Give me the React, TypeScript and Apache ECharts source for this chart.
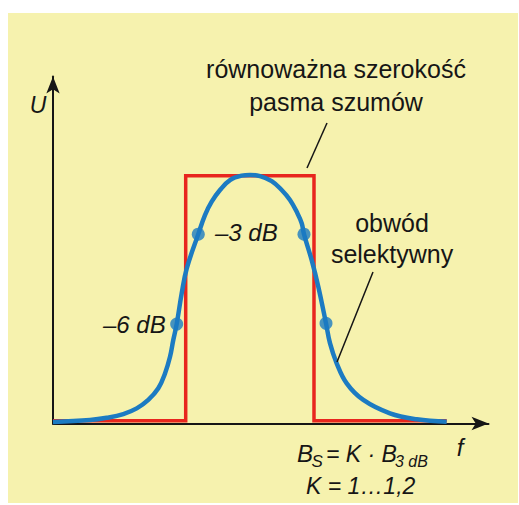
import React, { useEffect, useRef } from "react";
import * as echarts from "echarts";

// Frequency (arbitrary units, 0..100 along the f axis) and amplitude U (peak = 1)
const curveF = [
  0, 8.5, 12.33, 16.14, 19.22, 21.88, 24.18, 25.72, 26.87, 27.62, 28.4, 29.55, 30.7,
  33.36, 34.9, 36.44, 38.35, 40.64, 43.33, 45.24, 47.53, 50.22, 52.51, 54.42, 55.96,
  57.11, 57.63, 59.4, 60.92, 62.69, 63.6, 65.14, 67.44, 71.25, 77.38, 83.51, 90.4,
];
const curveU = [
  0.006, 0.014, 0.023, 0.038, 0.061, 0.095, 0.142, 0.202, 0.269, 0.337, 0.401, 0.525,
  0.625, 0.764, 0.841, 0.895, 0.942, 0.982, 1.0, 1.003, 0.998, 0.978, 0.942, 0.902,
  0.854, 0.808, 0.764, 0.659, 0.552, 0.404, 0.324, 0.243, 0.162, 0.095, 0.041, 0.017,
  0.007,
];

// Equivalent noise bandwidth rectangle
const rectF = [0, 30.47, 30.47, 59.93, 59.93, 90.4];
const rectU = [0.011, 0.011, 1.0, 1.0, 0.011, 0.011];

// -3 dB and -6 dB points on the selective circuit response
const markerF = [28.4, 33.36, 57.63, 62.69];
const markerU = [0.401, 0.764, 0.764, 0.404];

const BLUE = "#1C7BC2";
const RED = "#E8261E";
const INK = "#161616";
const PAPER = "#F6F2AE";
const FONT = "Liberation Sans, Arial, sans-serif";

export default function App() {
  const ref = useRef<HTMLDivElement>(null);

  useEffect(() => {
    document.body.style.margin = "0";
    if (!ref.current) return;
    const chart = echarts.init(ref.current, undefined, { renderer: "svg" });

    const curve = curveF.map((f, i) => [f, curveU[i]]);
    const rect = rectF.map((f, i) => [f, rectU[i]]);
    const markers = markerF.map((f, i) => [f, markerU[i]]);

    const txt = (
      text: string,
      x: number,
      y: number,
      size: number,
      align: string,
      italic = false
    ) => ({
      type: "text",
      x,
      y,
      z: 20,
      style: {
        text,
        fill: INK,
        font: `${italic ? "italic " : ""}${size}px ${FONT}`,
        textAlign: align,
        textVerticalAlign: "middle",
      },
    });

    const axisStyle = {
      show: true,
      symbol: ["none", "arrow"],
      symbolSize: [10, 17],
      lineStyle: { color: INK, width: 2 },
    };

    chart.setOption({
      animation: false,
      backgroundColor: "#ffffff",
      grid: { left: 53, right: 30.5, top: 76.5, bottom: 81.5 },
      xAxis: {
        type: "value",
        min: 0,
        max: 100,
        axisLine: axisStyle,
        axisTick: { show: false },
        axisLabel: { show: false },
        splitLine: { show: false },
      },
      yAxis: {
        type: "value",
        min: 0,
        max: 1.4,
        axisLine: axisStyle,
        axisTick: { show: false },
        axisLabel: { show: false },
        splitLine: { show: false },
      },
      graphic: [
        {
          type: "rect",
          z: -10,
          shape: { x: 8, y: 13, width: 510, height: 490 },
          style: { fill: PAPER },
        },
        txt("U", 38, 105, 23, "center", true),
        txt("f", 460, 447, 24, "center", true),
        txt("równoważna szerokość", 336, 69, 25, "center"),
        txt("pasma szumów", 336, 102, 25, "center"),
        txt("obwód", 392, 223, 25, "center"),
        txt("selektywny", 392, 254, 25, "center"),
        txt("–3 dB", 215, 232, 24, "left", true),
        txt("–6 dB", 103, 324, 24, "left", true),
        txt("B", 297, 453.5, 24, "left", true),
        txt("S", 311.5, 461, 17, "left", true),
        txt("= K · B", 326, 453.5, 23, "left", true),
        txt("3 dB", 395, 461, 16, "left", true),
        txt("K = 1…1,2", 306, 485.5, 23, "left", true),
        {
          type: "line",
          z: 20,
          shape: { x1: 327, y1: 123, x2: 307, y2: 168 },
          style: { stroke: INK, lineWidth: 1.5 },
        },
        {
          type: "line",
          z: 20,
          shape: { x1: 373, y1: 272, x2: 337, y2: 362 },
          style: { stroke: INK, lineWidth: 1.5 },
        },
      ],
      series: [
        {
          type: "line",
          data: rect,
          showSymbol: false,
          z: 2,
          lineStyle: { color: RED, width: 3.5, join: "miter" },
        },
        {
          type: "line",
          data: curve,
          smooth: 0.4,
          showSymbol: false,
          z: 3,
          lineStyle: { color: BLUE, width: 4.5 },
        },
        {
          type: "scatter",
          data: markers,
          symbolSize: 13,
          z: 4,
          itemStyle: { color: BLUE },
        },
      ],
    });

    return () => chart.dispose();
  }, []);

  return <div ref={ref} style={{ width: 519, height: 505 }} />;
}
